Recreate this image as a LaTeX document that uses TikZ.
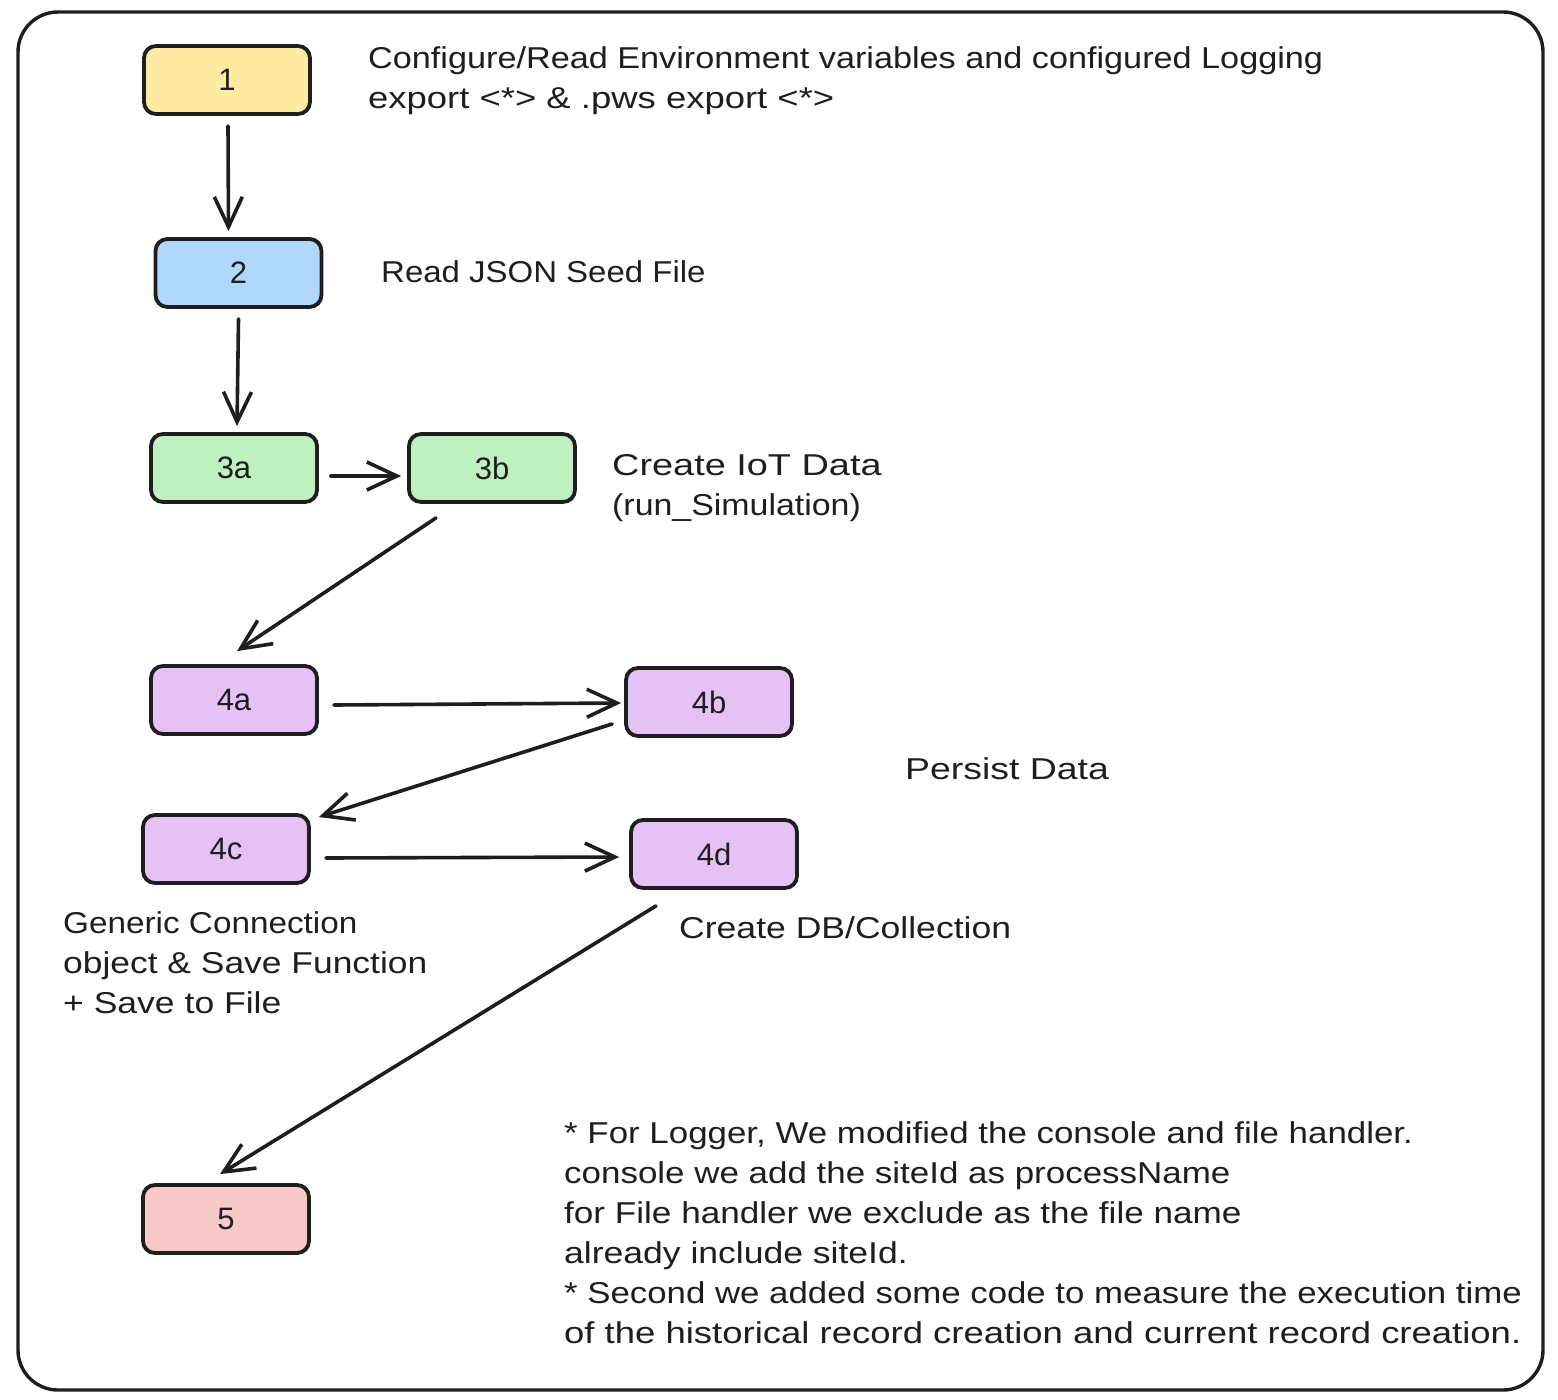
\documentclass[tikz,border=0pt]{standalone}
\usepackage{fontspec}
\usepackage{graphicx}
\setmainfont{Liberation Sans}
\usetikzlibrary{arrows.meta,calc}
\definecolor{ink}{HTML}{1E1E1E}
\definecolor{cyellow}{HTML}{FCEBA0}
\definecolor{cblue}{HTML}{AFD8FA}
\definecolor{cgreen}{HTML}{BEF0C0}
\definecolor{cpurple}{HTML}{E6C1F5}
\definecolor{cred}{HTML}{F7C9C9}
\newcommand{\hstretch}[2]{\scalebox{#1}[1.04]{#2}}
\begin{document}
\begin{tikzpicture}[x=1pt,y=-1pt,
  box/.style={draw=ink, line width=3.8pt, rounded corners=12pt, minimum width=166pt, minimum height=68pt, inner sep=0pt, font=\fontsize{31}{36}\selectfont, text=ink},
  lbl/.style={anchor=base west, inner sep=0pt, font=\fontsize{29}{36}\selectfont, text=ink},
  arr/.style={draw=ink, line width=3.6pt, line cap=round, -{Straight Barb[length=30pt,width=28pt,line width=3.6pt]}}]
\useasboundingbox (0,0) rectangle (1558,1400);
\draw[draw=ink, line width=3.4pt, rounded corners=40pt] (18,12) rectangle (1543,1390);

\node[box, fill=cyellow] (n1) at (227,80) {1};
\node[box, fill=cblue] (n2) at (238.5,273) {2};
\node[box, fill=cgreen] (n3a) at (234,468) {3a};
\node[box, fill=cgreen] (n3b) at (492,468) {3b};
\node[box, fill=cpurple] (n4a) at (234,700) {4a};
\node[box, fill=cpurple] (n4b) at (709,702) {4b};
\node[box, fill=cpurple] (n4c) at (226,849) {4c};
\node[box, fill=cpurple] (n4d) at (714,854) {4d};
\node[box, fill=cred] (n5) at (226,1219) {5};

\draw[arr] ($(n1.south)+(1,10)$) -- ($(n2.north)+(-10,-6)$);
\draw[arr] ($(n2.south)+(0,10)$) -- ($(n3a.north)+(3,-6)$);
\draw[arr] ($(n3a.east)+(12,8)$) -- ($(n3b.west)+(-6,8)$);
\draw[arr] ($(n3b.south)+(-56,14)$) -- ($(n4a.north)+(3,-13)$);
\draw[arr] ($(n4a.east)+(15,5)$) -- ($(n4b.west)+(-3,1)$);
\draw[arr] ($(n4b.west)+(-12,22)$) -- ($(n4c.east)+(8,-32)$);
\draw[arr] ($(n4c.east)+(15,9)$) -- ($(n4d.west)+(-10,3)$);
\draw[arr] ($(n4d.south)+(-58,16)$) -- ($(n5.north)+(-6,-9)$);

\node[lbl] (t1a) at (368,68) {\hstretch{1.18}{Configure/Read Environment variables and configured Logging}};
\node[lbl] (t1b) at (368,108) {\hstretch{1.257}{export <*> \& .pws export <*>}};
\node[lbl] (t2) at (381,282) {\hstretch{1.137}{Read JSON Seed File}};
\node[lbl] (t3a) at (612,475) {\hstretch{1.306}{Create IoT Data}};
\node[lbl] (t3b) at (612,515) {\hstretch{1.169}{(run\_Simulation)}};
\node[lbl] (t4) at (905,779) {\hstretch{1.29}{Persist Data}};
\node[lbl] (t4ca) at (63,933) {\hstretch{1.148}{Generic Connection}};
\node[lbl] (t4cb) at (63,973) {\hstretch{1.221}{object \& Save Function}};
\node[lbl] (t4cc) at (63,1013) {\hstretch{1.225}{+ Save to File}};
\node[lbl] (t4d) at (679,938) {\hstretch{1.226}{Create DB/Collection}};
\node[lbl] (m1) at (564,1143) {\hstretch{1.203}{* For Logger, We modified the console and file handler.}};
\node[lbl] (m2) at (564,1183) {\hstretch{1.205}{console we add the siteId as processName}};
\node[lbl] (m3) at (564,1223) {\hstretch{1.211}{for File handler we exclude as the file name}};
\node[lbl] (m4) at (564,1263) {\hstretch{1.225}{already include siteId.}};
\node[lbl] (m5) at (564,1303) {\hstretch{1.2}{* Second we added some code to measure the execution time}};
\node[lbl] (m6) at (564,1343) {\hstretch{1.258}{of the historical record creation and current record creation.}};
\end{tikzpicture}
\end{document}
